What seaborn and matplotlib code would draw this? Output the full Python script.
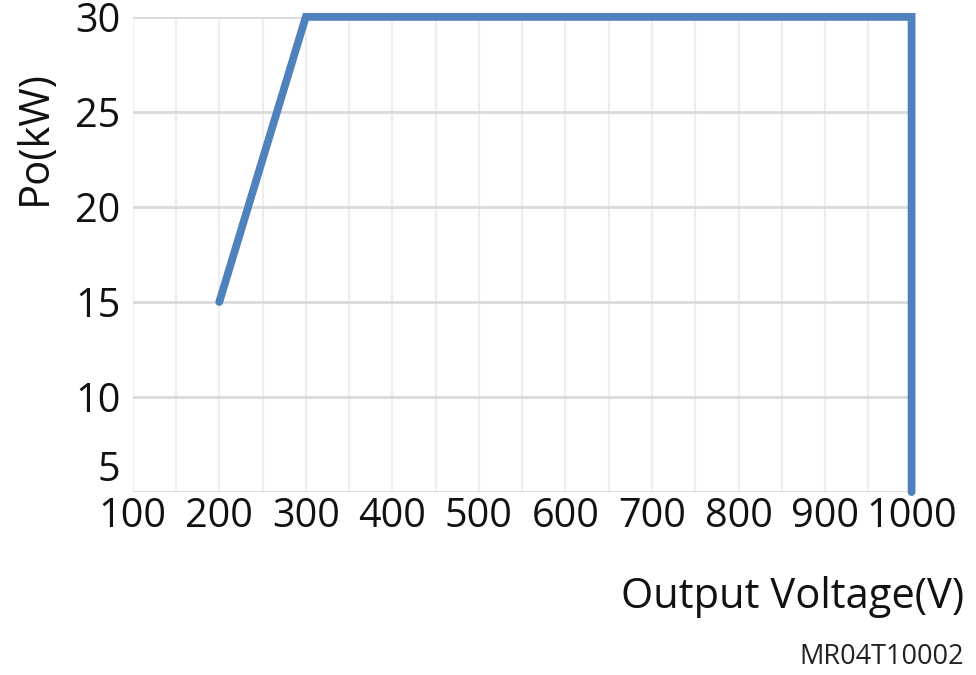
import numpy as np
import pandas as pd
import matplotlib
matplotlib.use("Agg")
import matplotlib.pyplot as plt
import matplotlib.transforms as mtransforms
import seaborn as sns

# curve data: output voltage (V) vs output power (kW)
voltage = [200, 300, 1000, 1000]
power = [15, 30, 30, 5]
x_ticks = [100, 200, 300, 400, 500, 600, 700, 800, 900, 1000]
y_ticks = [5, 10, 15, 20, 25, 30]

df = pd.DataFrame({"voltage": voltage, "power": power})

sns.set_style("white")
plt.rcParams["font.family"] = ["Open Sans", "DejaVu Sans"]

fig = plt.figure(figsize=(9.76, 6.75), dpi=100)
ax = fig.add_axes([0.136, 0.271, 0.798, 0.704])

# grid: light verticals every 50 V, darker horizontals every 5 kW
for v in np.arange(100, 1001, 50):
    ax.axvline(v, color="#eeeeee", lw=1.6, zorder=0)
for p in y_ticks:
    ax.axhline(p, color="#dadada", lw=2.0, zorder=0)

sns.lineplot(data=df, x="voltage", y="power", sort=False, estimator=None,
             ax=ax, color="#4f81bd", lw=5.6, solid_capstyle="round",
             solid_joinstyle="miter", clip_on=False, zorder=3)

ax.set_xlim(100, 1000)
ax.set_ylim(5, 30)
ax.set_xticks(x_ticks)
ax.set_yticks(y_ticks)
ax.tick_params(axis="both", length=0, labelsize=28.5, colors="#111111")
ax.tick_params(axis="x", pad=3)
ax.tick_params(axis="y", pad=9)
for s in ax.spines.values():
    s.set_visible(False)
ax.set_xlabel("")
ax.set_ylabel("")

# lift the bottom y label so it clears the x labels
lbl5 = ax.get_yticklabels()[0]
lbl5.set_verticalalignment("bottom")
lbl5.set_transform(lbl5.get_transform() +
                   mtransforms.ScaledTranslation(0, 1 / 100, fig.dpi_scale_trans))

fig.text(0.036, 0.796, "Po(kW)", rotation=90, ha="center", va="center",
         fontsize=30, color="#111111")
fig.text(0.988, 0.116, "Output Voltage(V)", ha="right", va="center",
         fontsize=30, color="#111111")
fig.text(0.988, 0.027, "MR04T10002", ha="right", va="center",
         fontsize=19.5, color="#222222")

fig.savefig("out.png", dpi=100)
